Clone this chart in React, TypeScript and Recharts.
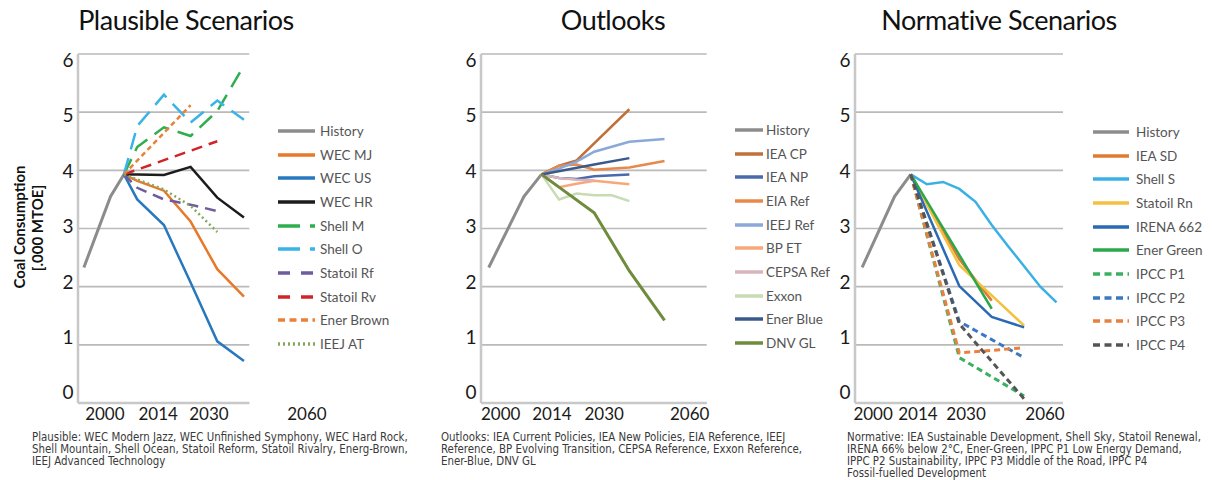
import React from 'react';
import { LineChart, Line, XAxis, YAxis, CartesianGrid, Legend } from 'recharts';

type Pt = [number, number];

// ---------- shared axes ----------
const yTicks = [0, 1, 2, 3, 4, 5, 6];
const xTickYears = [2000, 2014, 2030, 2060];

// ---------- history ----------
const history: Pt[] = [[2000, 2.33], [2010, 3.55], [2015, 3.93]];

// ---------- plausible scenarios ----------
const wecMJ: Pt[] = [[2015, 3.93], [2020, 3.82], [2030, 3.65], [2040, 3.12], [2050, 2.3], [2060, 1.83]];
const wecUS: Pt[] = [[2015, 3.93], [2020, 3.5], [2030, 3.06], [2040, 2.07], [2050, 1.06], [2060, 0.72]];
const wecHR: Pt[] = [[2015, 3.93], [2020, 3.93], [2030, 3.92], [2040, 4.06], [2050, 3.53], [2060, 3.19]];
const shellM: Pt[] = [[2015, 3.93], [2020, 4.4], [2030, 4.74], [2040, 4.59], [2050, 5.02], [2060, 5.8]];
const shellO: Pt[] = [[2015, 3.93], [2020, 4.76], [2030, 5.3], [2040, 4.82], [2050, 5.2], [2060, 4.87]];
const statoilRf: Pt[] = [[2015, 3.93], [2020, 3.7], [2030, 3.5], [2040, 3.41], [2050, 3.3]];
const statoilRv: Pt[] = [[2015, 3.93], [2050, 4.5]];
const enerBrown: Pt[] = [[2015, 3.93], [2040, 5.12]];
const ieejAT: Pt[] = [[2015, 3.93], [2030, 3.67], [2040, 3.39], [2050, 2.94]];

// ---------- outlooks ----------
const ieaCP: Pt[] = [[2015, 3.93], [2020, 4.08], [2025, 4.17], [2040, 5.05]];
const ieaNP: Pt[] = [[2015, 3.93], [2020, 3.87], [2025, 3.85], [2030, 3.9], [2040, 3.93]];
const eiaRef: Pt[] = [[2015, 3.93], [2020, 4.08], [2025, 4.1], [2030, 4.01], [2040, 4.05], [2050, 4.16]];
const ieejRef: Pt[] = [[2015, 3.93], [2020, 4.03], [2025, 4.15], [2030, 4.32], [2040, 4.49], [2050, 4.54]];
const bpET: Pt[] = [[2015, 3.93], [2020, 3.71], [2025, 3.77], [2030, 3.82], [2040, 3.76]];
const cepsaRef: Pt[] = [[2015, 3.93], [2020, 3.87], [2025, 3.84], [2030, 3.83]];
const exxon: Pt[] = [[2015, 3.93], [2020, 3.5], [2025, 3.6], [2030, 3.57], [2035, 3.57], [2040, 3.47]];
const enerBlue: Pt[] = [[2015, 3.93], [2030, 4.1], [2040, 4.21]];
const dnvGL: Pt[] = [[2015, 3.93], [2030, 3.27], [2040, 2.27], [2050, 1.42]];

// ---------- normative scenarios ----------
const ieaSD: Pt[] = [[2015, 3.93], [2030, 2.47], [2040, 1.76]];
const shellS: Pt[] = [[2015, 3.93], [2020, 3.76], [2025, 3.8], [2030, 3.68], [2035, 3.46], [2040, 3.06], [2045, 2.7], [2050, 2.35], [2055, 2.0], [2060, 1.73]];
const statoilRn: Pt[] = [[2015, 3.93], [2030, 2.37], [2040, 1.85], [2050, 1.33]];
const irena662: Pt[] = [[2015, 3.93], [2030, 2.01], [2040, 1.48], [2050, 1.3]];
const enerGreen: Pt[] = [[2015, 3.93], [2040, 1.62]];
const ipccP1: Pt[] = [[2015, 3.93], [2030, 0.78], [2050, 0.12]];
const ipccP2: Pt[] = [[2015, 3.93], [2030, 1.4], [2050, 0.78]];
const ipccP3: Pt[] = [[2015, 3.93], [2030, 0.86], [2050, 0.95]];
const ipccP4: Pt[] = [[2015, 3.93], [2030, 1.36], [2050, 0.07]];

// ---------- texts ----------
const titles = ['Plausible Scenarios', 'Outlooks', 'Normative Scenarios'];
const yAxisTitle = ['Coal Consumption', '[.000 MTOE]'];
const notePlausible = [
  'Plausible: WEC Modern Jazz, WEC Unfinished Symphony, WEC Hard Rock,',
  'Shell Mountain, Shell Ocean, Statoil Reform, Statoil Rivalry, Energ-Brown,',
  'IEEJ Advanced Technology',
];
const noteOutlooks = [
  'Outlooks: IEA Current Policies, IEA New Policies, EIA Reference, IEEJ',
  'Reference, BP Evolving Transition, CEPSA Reference, Exxon Reference,',
  'Ener-Blue, DNV GL',
];
const noteNormative = [
  'Normative: IEA Sustainable Development, Shell Sky, Statoil Renewal,',
  'IRENA 66% below 2°C, Ener-Green, IPPC P1 Low Energy Demand,',
  'IPPC P2 Sustainability, IPPC P3 Middle of the Road, IPPC P4',
  'Fossil-fuelled Development',
];

// ---------- styling ----------
interface Series {
  name: string;
  points: Pt[];
  color: string;
  width: number;
  dash?: string;
  legendDash?: string;
}

const HIST = '#8c8c8c';
const FONT = "Lato, 'Open Sans', sans-serif";

const plausibleSeries: Series[] = [
  { name: 'History', points: history, color: HIST, width: 3 },
  { name: 'WEC MJ', points: wecMJ, color: '#e8782a', width: 2.5 },
  { name: 'WEC US', points: wecUS, color: '#2878be', width: 2.5 },
  { name: 'WEC HR', points: wecHR, color: '#1c1c1c', width: 2.5 },
  { name: 'Shell M', points: shellM, color: '#2fae4e', width: 2.5, dash: '17 9', legendDash: '22 10' },
  { name: 'Shell O', points: shellO, color: '#3ab4e6', width: 2.5, dash: '17 9', legendDash: '22 10' },
  { name: 'Statoil Rf', points: statoilRf, color: '#6e5c9e', width: 2.5, dash: '11 7', legendDash: '12 11' },
  { name: 'Statoil Rv', points: statoilRv, color: '#d0242a', width: 2.5, dash: '11 7', legendDash: '12 11' },
  { name: 'Ener Brown', points: enerBrown, color: '#e8823a', width: 2.5, dash: '5 3.5', legendDash: '7 4.5' },
  { name: 'IEEJ AT', points: ieejAT, color: '#86a85a', width: 2.5, dash: '2 3', legendDash: '2 3' },
];

const outlookSeries: Series[] = [
  { name: 'History', points: history, color: HIST, width: 3 },
  { name: 'IEA CP', points: ieaCP, color: '#c0703a', width: 2.5 },
  { name: 'IEA NP', points: ieaNP, color: '#4a6aac', width: 2.5 },
  { name: 'EIA Ref', points: eiaRef, color: '#e8884a', width: 2.5 },
  { name: 'IEEJ Ref', points: ieejRef, color: '#8aa8d8', width: 2.5 },
  { name: 'BP ET', points: bpET, color: '#f8a878', width: 2.5 },
  { name: 'CEPSA Ref', points: cepsaRef, color: '#d8b4bc', width: 2.5 },
  { name: 'Exxon', points: exxon, color: '#c8dcb4', width: 2.5 },
  { name: 'Ener Blue', points: enerBlue, color: '#3a5a8a', width: 2.5 },
  { name: 'DNV GL', points: dnvGL, color: '#6e8c3c', width: 3 },
];

const normativeSeries: Series[] = [
  { name: 'History', points: history, color: HIST, width: 3 },
  { name: 'IEA SD', points: ieaSD, color: '#e07a30', width: 2.5 },
  { name: 'Shell S', points: shellS, color: '#3ab0e4', width: 2.5 },
  { name: 'Statoil Rn', points: statoilRn, color: '#f4c040', width: 2.5 },
  { name: 'IRENA 662', points: irena662, color: '#2a6ab4', width: 2.5 },
  { name: 'Ener Green', points: enerGreen, color: '#2aa84a', width: 2.5 },
  { name: 'IPCC P1', points: ipccP1, color: '#3ab060', width: 3, dash: '6 4', legendDash: '7 4.5' },
  { name: 'IPCC P2', points: ipccP2, color: '#3a78c0', width: 3, dash: '6 4', legendDash: '7 4.5' },
  { name: 'IPCC P3', points: ipccP3, color: '#e88040', width: 3, dash: '6 4', legendDash: '7 4.5' },
  { name: 'IPCC P4', points: ipccP4, color: '#555555', width: 3, dash: '6 4', legendDash: '7 4.5' },
];

const CH = 440;
const Y_W = 30;
const X_DOMAIN: [number, number] = [1997.8, 2062];

const toRows = (pts: Pt[]) => pts.map(([year, value]) => ({ year, value }));

const XTick = (props: any) => {
  const { x, payload, shifts } = props;
  const i = xTickYears.indexOf(payload.value);
  return (
    <text x={x + (shifts[i] ?? 0)} y={413} textAnchor="middle" dominantBaseline="central"
      fontFamily={FONT} fontSize={17} fill="#1a1a1a">
      {payload.value}
    </text>
  );
};

const YTick = (props: any) => {
  const { y, payload, plotLeft } = props;
  return (
    <text x={plotLeft - 10} y={y + (payload.value - 4) * 2.8} textAnchor="middle" dominantBaseline="central"
      fontFamily={FONT} fontSize={19} fill="#1a1a1a">
      {payload.value}
    </text>
  );
};

const AxisTitle = () => (
  <g>
    <text transform="rotate(-90)" x={-227} y={25} textAnchor="middle" fontFamily={FONT}
      fontSize={15} fontWeight={700} fill="#111">{yAxisTitle[0]}</text>
    <text transform="rotate(-90)" x={-228} y={43} textAnchor="middle" fontFamily={FONT}
      fontSize={15} fontWeight={700} fill="#111">{yAxisTitle[1]}</text>
  </g>
);

const LegendBox = ({ items, lineW, gap }: { items: Series[]; lineW: number; gap: number }) => (
  <div style={{ fontFamily: FONT, textAlign: 'left' }}>
    {items.map((s) => (
      <div key={s.name} style={{ display: 'flex', alignItems: 'center', height: 23.7, whiteSpace: 'nowrap' }}>
        <svg width={lineW} height={8} style={{ display: 'block' }}>
          <line x1={0} y1={4} x2={lineW} y2={4} stroke={s.color} strokeWidth={3.5}
            strokeDasharray={s.legendDash} />
        </svg>
        <span style={{ marginLeft: gap, fontSize: 13.5, color: '#555', lineHeight: '16px' }}>{s.name}</span>
      </div>
    ))}
  </div>
);

interface PanelProps {
  left: number;
  width: number;
  plotLeft: number;
  plotRight: number;
  series: Series[];
  shifts: number[];
  legendLeft: number;
  legendTop: number;
  legendLine: number;
  legendGap: number;
  showYTitle?: boolean;
}

const Panel = (p: PanelProps) => {
  const margin = { top: 54, right: p.width - p.plotRight, bottom: 7, left: p.plotLeft - Y_W };
  return (
    <div style={{ position: 'absolute', left: p.left, top: 0, width: p.width, height: CH }}>
      <LineChart width={p.width} height={CH} margin={margin}>
        <CartesianGrid vertical={false} stroke="#bababa" strokeWidth={1.6} />
        <XAxis type="number" dataKey="year" domain={X_DOMAIN} ticks={xTickYears} interval={0}
          allowDataOverflow height={30} tickLine={false}
          axisLine={{ stroke: '#c8c8c8', strokeWidth: 2.5 }}
          tick={<XTick shifts={p.shifts} />} />
        <YAxis type="number" domain={[0, 6]} ticks={yTicks} interval={0} width={Y_W} tickLine={false}
          axisLine={{ stroke: '#c8c8c8', strokeWidth: 2.5 }}
          tick={<YTick plotLeft={p.plotLeft} />}
          label={p.showYTitle ? <AxisTitle /> : undefined} />
        {p.series.map((s) => (
          <Line key={s.name} data={toRows(s.points)} dataKey="value" name={s.name} type="linear"
            stroke={s.color} strokeWidth={s.width} strokeDasharray={s.dash}
            dot={false} activeDot={false} isAnimationActive={false} />
        ))}
        <Legend layout="horizontal" verticalAlign="middle" align="center"
          wrapperStyle={{ left: p.legendLeft, top: p.legendTop, width: 150 }}
          content={() => <LegendBox items={p.series} lineW={p.legendLine} gap={p.legendGap} />} />
      </LineChart>
    </div>
  );
};

const Note = ({ left, lines }: { left: number; lines: string[] }) => (
  <div style={{
    position: 'absolute', left, top: 431, fontFamily: "'Liberation Sans Narrow', 'DejaVu Sans Condensed', sans-serif",
    fontSize: 11.4, lineHeight: '12px', color: '#3a3a3a', whiteSpace: 'nowrap',
  }}>
    {lines.map((l) => <div key={l}>{l}</div>)}
  </div>
);

const Title = ({ center, text }: { center: number; text: string }) => (
  <div style={{
    position: 'absolute', left: center - 200, width: 400, top: 5, textAlign: 'center',
    fontFamily: FONT, fontSize: 27, fontWeight: 400, color: '#111', lineHeight: '30px', letterSpacing: -0.5,
  }}>{text}</div>
);

export default function App() {
  return (
    <div style={{ position: 'absolute', left: 0, top: 0, width: 1212, height: 480, background: '#fff', overflow: 'hidden' }}>
      <Title center={186} text={titles[0]} />
      <Title center={613} text={titles[1]} />
      <Title center={999} text={titles[2]} />
      <Panel left={0} width={420} plotLeft={78} plotRight={249.3} series={plausibleSeries}
        shifts={[21, 37, 45, 63]} legendLeft={278} legendTop={119} legendLine={37} legendGap={5} showYTitle />
      <Panel left={420} width={400} plotLeft={61} plotRight={286.7} series={outlookSeries}
        shifts={[12, 14, 10, -10]} legendLeft={315} legendTop={118} legendLine={28} legendGap={3} />
      <Panel left={820} width={392} plotLeft={35} plotRight={243} series={normativeSeries}
        shifts={[11, 10.5, 6.7, -11.5]} legendLeft={273} legendTop={120} legendLine={36} legendGap={7} />
      <Note left={32} lines={notePlausible} />
      <Note left={441} lines={noteOutlooks} />
      <Note left={847} lines={noteNormative} />
    </div>
  );
}
